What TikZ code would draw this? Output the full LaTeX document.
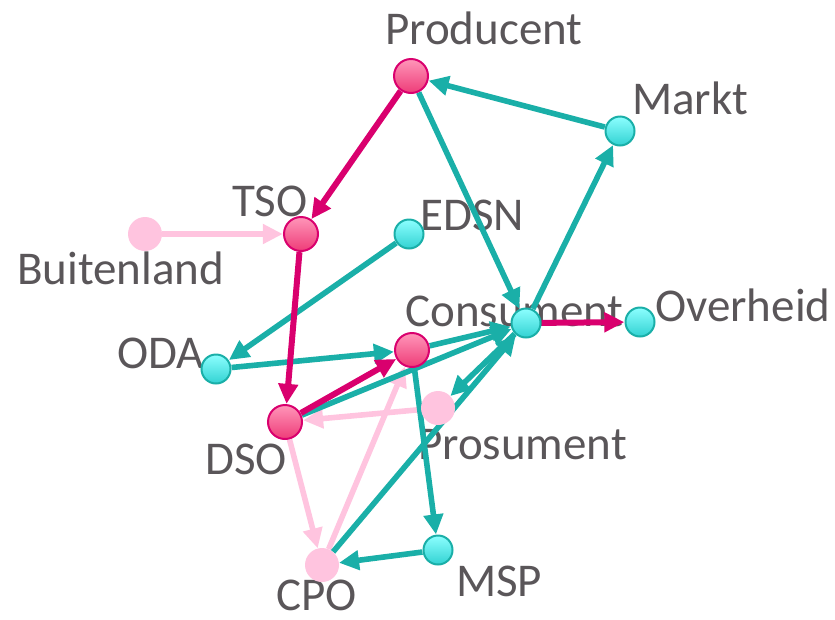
\documentclass[tikz,border=0pt]{standalone}
\usepackage{fontspec}
\setmainfont{Carlito}
\usetikzlibrary{arrows.meta}
\definecolor{cyanline}{HTML}{1AAFA8}
\definecolor{redline}{HTML}{D9006E}
\definecolor{pinkline}{HTML}{FFC4DF}
\definecolor{labelgray}{HTML}{5A5659}
\begin{document}
\begin{tikzpicture}[x=1pt,y=-1pt,
  rednode/.style={circle,draw=redline,line width=2pt,minimum size=34pt,inner sep=0pt,top color={rgb,255:red,255;green,150;blue,185},bottom color={rgb,255:red,238;green,60;blue,120}},
  cyannode/.style={circle,draw=cyanline,line width=2pt,minimum size=29pt,inner sep=0pt,top color={rgb,255:red,140;green,255;blue,255},bottom color={rgb,255:red,50;green,210;blue,210}},
  pinknode/.style={circle,fill=pinkline,minimum size=34pt,inner sep=0pt},
  lab/.style={anchor=base west,inner sep=0pt,text=labelgray,font=\fontsize{47}{56}\selectfont},
  cedge/.style={draw=cyanline,line width=5.6pt,-{Triangle[length=20pt,width=19pt]}},
  redge/.style={draw=redline,line width=6pt,-{Triangle[length=20pt,width=19pt]}},
  pedge/.style={draw=pinkline,line width=5.6pt,-{Triangle[length=20pt,width=19pt]}}]
\useasboundingbox (0,0) rectangle (835,619);
% labels
\node[lab] (lProd) at (385,44) {Producent};
\node[lab] (lMarkt) at (632,114) {Markt};
\node[lab] (lTSO) at (232,216) {TSO};
\node[lab] (lEDSN) at (420,230) {EDSN};
\node[lab] (lBuit) at (17,284) {Buitenland};
\node[lab] (lODA) at (117,368) {ODA};
\node[lab] (lCons) at (405,326) {Consument};
\node[lab] (lOver) at (655,321) {Overheid};
\node[lab] (lPros) at (418,459) {Prosument};
\node[lab] (lDSO) at (205,474) {DSO};
\node[lab] (lCPO) at (276,610) {CPO};
\node[lab] (lMSP) at (456,596) {MSP};
% node coordinates (drawn later on top)
\path
  (411,76) coordinate (cProd)
  (620,131) coordinate (cMarkt)
  (301,234) coordinate (cTSO)
  (409,234) coordinate (cEDSN)
  (145,234) coordinate (cBuit)
  (216,369) coordinate (cODA)
  (526,323) coordinate (cHub)
  (640,322) coordinate (cOver)
  (412,350) coordinate (cR)
  (438,408) coordinate (cPros)
  (285,422) coordinate (cDSO)
  (322,565) coordinate (cCPO)
  (438,550) coordinate (cMSP);
% invisible nodes for edge clipping
\begin{scope}[every node/.style={circle,minimum size=33pt,inner sep=0pt}]
\node[minimum size=36pt] (Prod) at (cProd) {};
\node[minimum size=31pt] (Markt) at (cMarkt) {};
\node[minimum size=36pt] (TSO) at (cTSO) {};
\node[minimum size=31pt] (EDSN) at (cEDSN) {};
\node[minimum size=34pt] (Buit) at (cBuit) {};
\node[minimum size=31pt] (ODA) at (cODA) {};
\node[minimum size=31pt] (Hub) at (cHub) {};
\node[minimum size=31pt] (Over) at (cOver) {};
\node[minimum size=36pt] (R) at (cR) {};
\node[minimum size=34pt] (Pros) at (cPros) {};
\node[minimum size=36pt] (DSO) at (cDSO) {};
\node[minimum size=34pt] (CPO) at (cCPO) {};
\node[minimum size=31pt] (MSP) at (cMSP) {};
\end{scope}
% pink edges
\draw[pedge] (Buit) -- (TSO);
\draw[pedge] (Pros) -- (DSO);
\draw[pedge] (DSO) -- (CPO);
\draw[pedge] (CPO) -- (R);
% cyan edges
\draw[cedge] (Markt) -- (Prod);
\draw[cedge] (Prod) -- (Hub);
\draw[cedge] (EDSN) -- (ODA);
\draw[cedge] (ODA) -- (R);
\draw[cedge] (Hub) -- (Markt);
\draw[cedge] (R) -- (Hub);
\draw[cedge] (DSO) -- (Hub);
\draw[cedge] (Hub) -- (Pros);
\draw[cedge] (R) -- (MSP);
\draw[cedge] (MSP) -- (CPO);
\draw[cedge] (CPO) -- (Hub);
% red edges
\draw[redge] (Prod) -- (TSO);
\draw[redge] (TSO) -- (DSO);
\draw[redge] (Hub) -- (Over);
\draw[redge] (DSO) -- (R);
% visible nodes
\node[rednode] (nProd) at (cProd) {};
\node[cyannode] (nMarkt) at (cMarkt) {};
\node[rednode] (nTSO) at (cTSO) {};
\node[cyannode] (nEDSN) at (cEDSN) {};
\node[pinknode] (nBuit) at (cBuit) {};
\node[cyannode] (nODA) at (cODA) {};
\node[cyannode] (nHub) at (cHub) {};
\node[cyannode] (nOver) at (cOver) {};
\node[rednode] (nR) at (cR) {};
\node[pinknode] (nPros) at (cPros) {};
\node[rednode] (nDSO) at (cDSO) {};
\node[pinknode] (nCPO) at (cCPO) {};
\node[cyannode] (nMSP) at (cMSP) {};
\end{tikzpicture}
\end{document}
